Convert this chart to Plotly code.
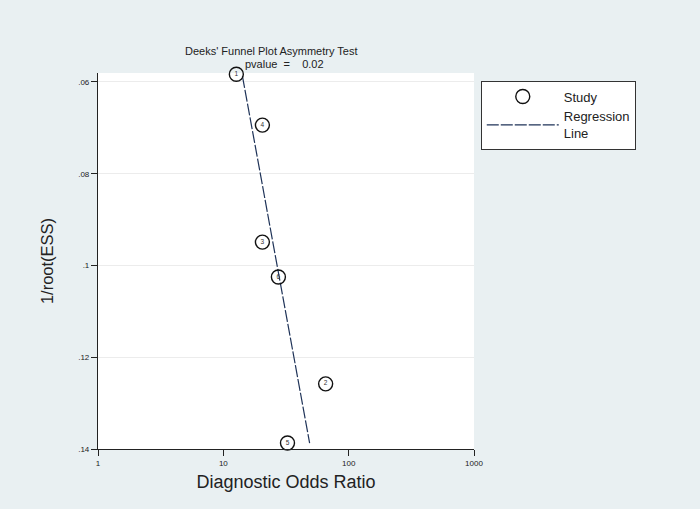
import plotly.graph_objects as go

study_ids = ["1", "2", "3", "4", "5", "6"]
dor = [12.7, 65.5, 20.5, 20.5, 32.5, 27.5]
inv_root_ess = [0.0583, 0.1258, 0.0949, 0.0694, 0.1387, 0.1025]

reg_dor = [14.2, 48.8]
reg_y = [0.0587, 0.1387]

y_ticks = [0.06, 0.08, 0.10, 0.12, 0.14]
y_tick_labels = [".06", ".08", ".1", ".12", ".14"]
x_ticks = [1, 10, 100, 1000]
x_tick_labels = ["1", "10", "100", "1000"]

bg = "#e9f0f2"
font = "Liberation Sans, Arial, sans-serif"

fig = go.Figure()
fig.add_trace(go.Scatter(
    x=reg_dor, y=reg_y, mode="lines", name="Regression<br>Line",
    line=dict(color="#1f3358", width=1.2, dash="12px,2px"),
    showlegend=True, legendrank=2,
))
fig.add_trace(go.Scatter(
    x=dor, y=inv_root_ess, mode="markers+text", name="Study",
    text=study_ids, textposition="middle center", cliponaxis=False,
    textfont=dict(size=6.5, color="#333333", family=font),
    marker=dict(symbol="circle-open", size=14, color="#111111", line=dict(width=1.4)),
    legendrank=1,
))

fig.update_layout(
    width=700, height=509,
    paper_bgcolor=bg, plot_bgcolor="white",
    margin=dict(l=98, r=226, t=73, b=60),
    font=dict(family=font, color="#222222"),
    showlegend=True,
    legend=dict(
        x=1.018, y=0.98, xanchor="left", yanchor="top",
        bgcolor="white", bordercolor="#333333", borderwidth=1,
        font=dict(size=13, family=font), itemwidth=72,
        tracegroupgap=0, traceorder="normal",
    ),
    annotations=[
        dict(text="Deeks' Funnel Plot Asymmetry Test", x=271, y=51, xref="paper", yref="paper",
             showarrow=False, font=dict(size=11), xanchor="center", yanchor="middle"),
        dict(text="pvalue  =    0.02", x=284, y=64, xref="paper", yref="paper",
             showarrow=False, font=dict(size=11), xanchor="center", yanchor="middle"),
    ],
)
# convert the pixel positions of annotations to paper coords
pw, ph = 700 - 98 - 226, 509 - 73 - 60
for a in fig.layout.annotations:
    a.x = (a.x - 98) / pw
    a.y = (509 - 60 - a.y) / ph

fig.update_xaxes(
    type="log", range=[0, 3], tickvals=x_ticks, ticktext=x_tick_labels,
    showgrid=False, showline=True, linecolor="#222222", linewidth=1.2,
    ticks="outside", ticklen=6, tickcolor="#222222",
    tickfont=dict(size=8), zeroline=False,
    title=dict(text="Diagnostic Odds Ratio", font=dict(size=18), standoff=8),
)
fig.update_yaxes(
    range=[0.14, 0.05804], tickvals=y_ticks, ticktext=y_tick_labels,
    showgrid=True, gridcolor="#ececec", gridwidth=1,
    showline=True, linecolor="#222222", linewidth=1.2,
    ticks="outside", ticklen=6, tickcolor="#222222",
    tickfont=dict(size=8), zeroline=False,
    title=dict(text="1/root(ESS)", font=dict(size=16.5), standoff=20),
)

fig.write_html("out.html", config={"displayModeBar": False},
               post_script="document.body.style.margin='0';document.body.style.overflow='hidden';")
